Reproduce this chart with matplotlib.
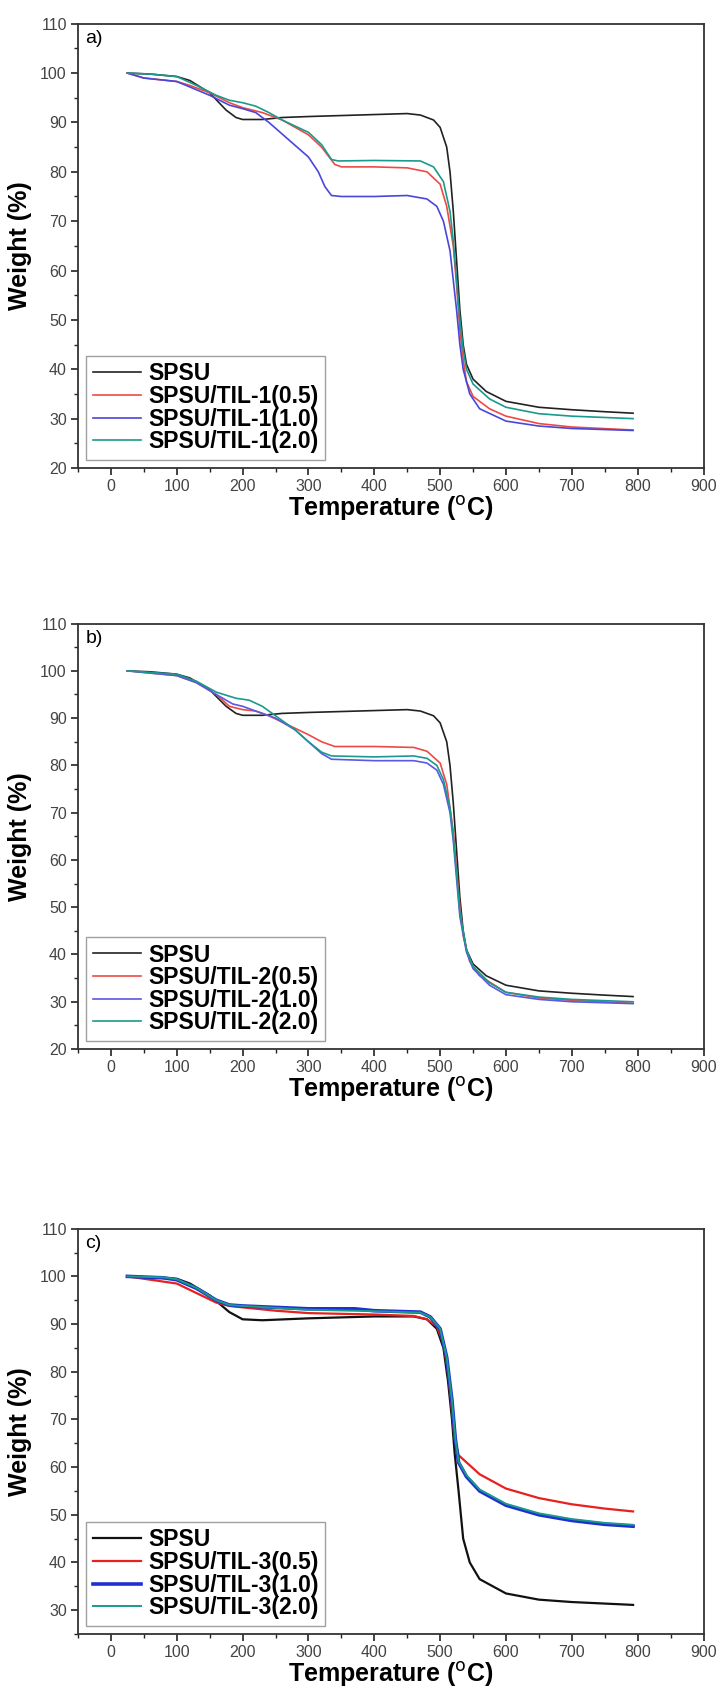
import matplotlib
matplotlib.use("Agg")
import matplotlib.pyplot as plt
from matplotlib.ticker import MultipleLocator

plt.rcParams['font.family'] = ['Liberation Sans', 'DejaVu Sans']

# ---- panel a ----
a_spsu_t = [25, 60, 100, 120, 150, 175, 190, 200, 230, 260, 300, 400, 450, 470, 490, 500, 510, 515, 520, 525, 530, 535, 540, 550, 570, 600, 650, 700, 750, 793]
a_spsu_w = [100, 99.8, 99.3, 98.5, 96, 92.5, 91, 90.6, 90.6, 91, 91.2, 91.6, 91.8, 91.5, 90.5, 89, 85, 80, 72, 62, 52, 45, 41, 38, 35.5, 33.5, 32.3, 31.8, 31.4, 31.1]
a_r_t = [25, 50, 100, 120, 150, 180, 200, 230, 260, 300, 320, 340, 350, 400, 450, 480, 500, 510, 520, 525, 530, 535, 540, 550, 575, 600, 650, 700, 793]
a_r_w = [100, 99, 98.3, 97.5, 96, 94, 93, 92, 90.5, 87.5, 85, 81.5, 81, 81, 80.8, 80, 77.5, 73, 65, 57, 48, 42, 37.5, 34.5, 32, 30.5, 29, 28.3, 27.7]
a_b_t = [25, 50, 100, 150, 180, 200, 220, 240, 270, 300, 315, 325, 335, 350, 400, 450, 480, 495, 505, 515, 520, 525, 530, 535, 545, 560, 600, 650, 700, 793]
a_b_w = [100, 99, 98.3, 95.5, 93.5, 92.8, 92, 90, 86.5, 83, 80, 77, 75.2, 75, 75, 75.2, 74.5, 73, 70, 64, 58, 52, 45, 40, 35, 32, 29.5, 28.5, 28, 27.6]
a_g_t = [25, 60, 100, 130, 160, 180, 200, 220, 240, 260, 300, 320, 335, 345, 400, 470, 490, 505, 515, 520, 525, 530, 535, 540, 550, 575, 600, 650, 700, 793]
a_g_w = [100, 99.8, 99.3, 97.5, 95.5, 94.5, 94, 93.3, 92, 90.5, 88, 85.5, 82.5, 82.2, 82.3, 82.2, 81, 78, 72, 66, 58, 50, 44, 40, 37, 34, 32.3, 31, 30.5, 30]

# ---- panel b ----
b_r_t = [25, 100, 130, 160, 180, 200, 220, 240, 270, 300, 320, 340, 400, 460, 480, 500, 510, 520, 525, 530, 535, 545, 560, 600, 650, 700, 793]
b_r_w = [100, 99, 97.5, 95, 92.5, 91.8, 91.5, 90.5, 88.5, 86.5, 85, 84, 84, 83.8, 83, 80.5, 76, 66, 58, 50, 44, 38.5, 35.5, 32, 30.8, 30.3, 29.7]
b_b_t = [25, 100, 130, 160, 185, 200, 220, 250, 280, 300, 320, 335, 400, 460, 480, 495, 505, 515, 520, 525, 530, 540, 550, 575, 600, 650, 700, 793]
b_b_w = [100, 99, 97.5, 95, 93, 92.5, 91.5, 90, 87.5, 85, 82.5, 81.3, 81, 81, 80.5, 79, 76, 70, 64, 56, 48, 40.5, 37, 33.5, 31.5, 30.5, 30, 29.6]
b_g_t = [25, 100, 130, 160, 190, 210, 230, 250, 280, 300, 320, 335, 400, 460, 480, 495, 505, 515, 520, 525, 530, 540, 550, 575, 600, 650, 700, 793]
b_g_w = [100, 99.3, 97.8, 95.5, 94.2, 93.8, 92.5, 90.5, 87.5, 85, 82.8, 82, 81.8, 82, 81.5, 80, 77, 71, 65, 57, 49, 41, 37.5, 34, 32, 31, 30.5, 30]

# ---- panel c ----
c_spsu_t = [25, 60, 100, 120, 150, 180, 200, 230, 300, 400, 460, 480, 495, 505, 512, 518, 522, 528, 535, 545, 560, 600, 650, 700, 793]
c_spsu_w = [100, 99.8, 99.5, 98.5, 96, 92.5, 91, 90.8, 91.2, 91.6, 91.6, 91, 89, 85, 78, 70, 63, 55, 45, 40, 36.5, 33.5, 32.2, 31.7, 31.1]
c_r_t = [25, 60, 100, 130, 160, 180, 200, 250, 300, 400, 460, 480, 495, 505, 512, 518, 522, 528, 540, 560, 600, 650, 700, 750, 793]
c_r_w = [100, 99.3, 98.5, 96.5, 94.5, 93.8, 93.5, 92.8, 92.3, 92, 91.7, 91, 89.5, 86, 80, 72, 66, 62.5, 61, 58.5, 55.5, 53.5, 52.2, 51.3, 50.7]
c_b_t = [25, 80, 100, 130, 160, 180, 200, 250, 300, 370, 400, 470, 485, 500, 510, 518, 523, 528, 540, 560, 600, 650, 700, 750, 793]
c_b_w = [100, 99.7, 99.3, 97.5, 95, 94, 93.8, 93.5, 93.2, 93.2, 92.8, 92.5, 91.5, 89, 83, 74, 66, 61, 58, 55, 52, 50, 48.8, 48, 47.6]
c_g_t = [25, 80, 100, 130, 160, 180, 200, 250, 300, 400, 470, 485, 500, 510, 518, 523, 528, 540, 560, 600, 650, 700, 750, 793]
c_g_w = [100, 99.8, 99.4, 97.6, 95, 94, 93.8, 93.4, 93, 92.7, 92.4, 91.5, 89, 83, 74, 66, 61.2, 58.3, 55.3, 52.3, 50.3, 49.1, 48.3, 47.9]

BLACK = '#222222'
RED = '#ee4a44'
BLUE = '#4a46dc'
TEAL = '#1a9a8c'


def style_axes(ax, ymin, tag):
    ax.set_xlim(-50, 900)
    ax.set_ylim(ymin, 110)
    ax.xaxis.set_major_locator(MultipleLocator(100))
    ax.xaxis.set_minor_locator(MultipleLocator(50))
    ax.yaxis.set_major_locator(MultipleLocator(10))
    ax.yaxis.set_minor_locator(MultipleLocator(5))
    ax.tick_params(which='both', direction='out', top=False, right=False,
                   labelsize=11.5, labelcolor='#444444', color='#222222')
    ax.tick_params(which='major', length=5, width=1.2, pad=3)
    ax.tick_params(which='minor', length=3, width=1.0)
    for s in ax.spines.values():
        s.set_linewidth(1.3)
        s.set_color('#333333')
    ax.set_xlabel('Temperature ($^{\\mathrm{o}}$C)', fontsize=18, fontweight='bold', labelpad=0)
    ax.set_ylabel('Weight (%)', fontsize=18, fontweight='bold', labelpad=6)
    ax.text(0.012, 0.985, tag, transform=ax.transAxes, ha='left', va='top', fontsize=14)
    leg = ax.legend(loc='lower left', prop={'weight': 'bold', 'size': 16.5},
                    frameon=True, fancybox=False, edgecolor='#888888', handlelength=2.1,
                    handletextpad=0.3, labelspacing=-0.02, borderpad=0.3,
                    borderaxespad=0.35)
    leg.get_frame().set_linewidth(1.0)


fig = plt.figure(figsize=(7.24, 16.95), dpi=100)

ax1 = fig.add_axes([0.1077, 0.7239, 0.864, 0.2621])
ax1.plot(a_spsu_t, a_spsu_w, color=BLACK, lw=1.2, label='SPSU')
ax1.plot(a_r_t, a_r_w, color=RED, lw=1.2, label='SPSU/TIL-1(0.5)')
ax1.plot(a_b_t, a_b_w, color=BLUE, lw=1.2, label='SPSU/TIL-1(1.0)')
ax1.plot(a_g_t, a_g_w, color=TEAL, lw=1.2, label='SPSU/TIL-1(2.0)')
style_axes(ax1, 20, 'a)')

ax2 = fig.add_axes([0.1077, 0.3811, 0.864, 0.2510])
ax2.plot(a_spsu_t, a_spsu_w, color=BLACK, lw=1.2, label='SPSU')
ax2.plot(b_r_t, b_r_w, color=RED, lw=1.2, label='SPSU/TIL-2(0.5)')
ax2.plot(b_b_t, b_b_w, color='#5a58e4', lw=1.2, label='SPSU/TIL-2(1.0)')
ax2.plot(b_g_t, b_g_w, color=TEAL, lw=1.2, label='SPSU/TIL-2(2.0)')
style_axes(ax2, 20, 'b)')

ax3 = fig.add_axes([0.1077, 0.0360, 0.864, 0.2391])
ax3.plot(c_spsu_t, c_spsu_w, color='#111111', lw=1.6, label='SPSU')
ax3.plot(c_r_t, c_r_w, color='#e82020', lw=1.6, label='SPSU/TIL-3(0.5)')
ax3.plot(c_b_t, c_b_w, color='#2030d0', lw=2.6, label='SPSU/TIL-3(1.0)')
ax3.plot(c_g_t, c_g_w, color=TEAL, lw=1.4, label='SPSU/TIL-3(2.0)')
style_axes(ax3, 25, 'c)')

fig.savefig('out.png', dpi=100)
